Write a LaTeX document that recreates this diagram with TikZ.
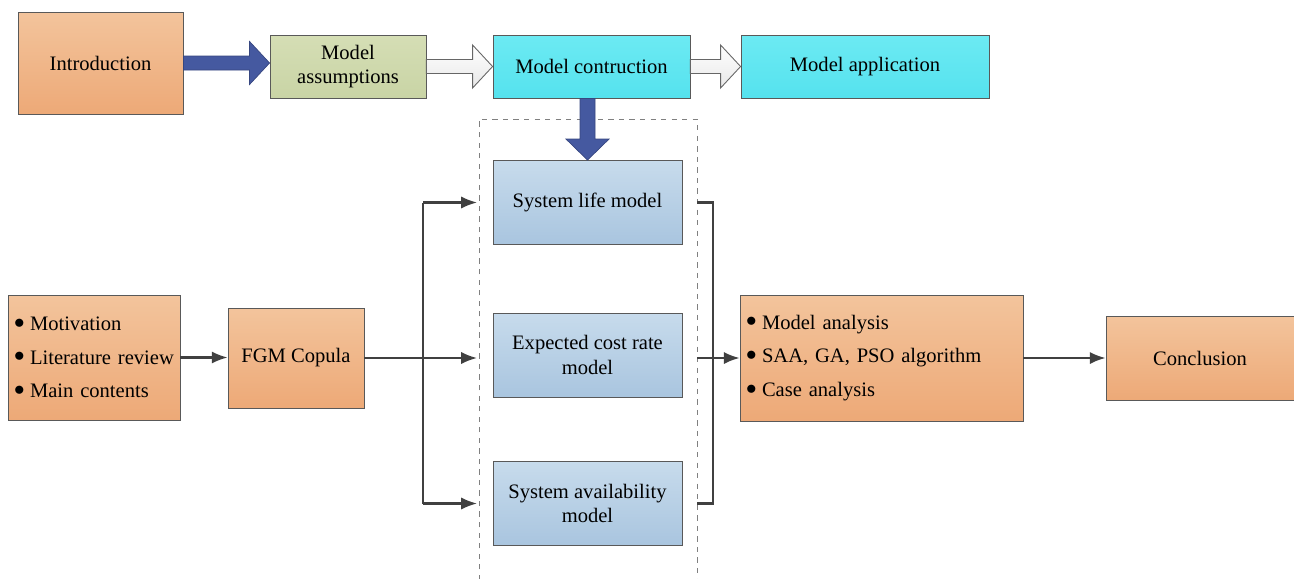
\documentclass[tikz,border=0pt]{standalone}
\usepackage{fontspec}
\setmainfont{Liberation Serif}
\usepackage{tikz}
\usetikzlibrary{calc,arrows.meta}
\definecolor{orangetop}{HTML}{F3C49C}
\definecolor{orangebot}{HTML}{EDA977}
\definecolor{greentop}{HTML}{D5DEB5}
\definecolor{greenbot}{HTML}{C9D4A5}
\definecolor{cyantop}{HTML}{6CEAF3}
\definecolor{cyanbot}{HTML}{55E2EE}
\definecolor{bluetop}{HTML}{C7DBEC}
\definecolor{bluebot}{HTML}{A9C5DF}
\definecolor{fatblue}{HTML}{4559A0}
\definecolor{edge}{HTML}{595959}
\definecolor{wire}{HTML}{404040}
\tikzset{
  box/.style={draw=edge, line width=0.5pt, inner sep=0pt, align=center,
    font=\fontsize{11.7}{14}\selectfont},
  orangebox/.style={box, top color=orangetop, bottom color=orangebot},
  greenbox/.style={box, top color=greentop, bottom color=greenbot},
  cyanbox/.style={box, top color=cyantop, bottom color=cyanbot},
  bluebox/.style={box, top color=bluetop, bottom color=bluebot},
  listbox/.style={orangebox, inner xsep=0.12cm, align=left},
  wireline/.style={draw=wire, line width=1.2pt},
  conn/.style={wireline, -{Latex[length=9pt,width=7pt]}},
  bigblue/.style={fill=fatblue, draw=fatblue!80!black, line width=0.4pt},
  bigwhite/.style={top color=white, bottom color=gray!18, draw=gray!80!black, line width=0.5pt},
  frame/.style={draw=gray, dashed, line width=0.5pt}
}
\def\fatarrowh[#1](#2)(#3){\draw[#1] ($(#2)+(0,-7)$) -- ($(#3)+(-20,-7)$) -- ($(#3)+(-20,-21.5)$) -- (#3) -- ($(#3)+(-20,21.5)$) -- ($(#3)+(-20,7)$) -- ($(#2)+(0,7)$) -- cycle;}
\def\fatarrowv[#1](#2)(#3){\draw[#1] ($(#2)+(-7.5,0)$) -- ($(#3)+(-7.5,-21)$) -- ($(#3)+(-21.5,-21)$) -- (#3) -- ($(#3)+(21.5,-21)$) -- ($(#3)+(7.5,-21)$) -- ($(#2)+(7.5,0)$) -- cycle;}
\newcommand\bul{\makebox[0.32cm][l]{\raisebox{0.12em}{$\bullet$}}}

\begin{document}
\begin{tikzpicture}[x=0.02cm, y=-0.02cm]
  %%%%% START %%%%%
  \useasboundingbox (0,0) rectangle (1294,578);

  % top row
  \node[orangebox, minimum width=3.3cm, minimum height=2.04cm] (intro) at (100.5,63) {Introduction};
  \node[greenbox, minimum width=3.12cm, minimum height=1.26cm] (assume) at (348,66.5) {Model\\assumptions};
  \node[cyanbox, minimum width=3.94cm, minimum height=1.26cm] (constr) at (591.5,66.5) {\raisebox{-2pt}{Model contruction}};
  \node[cyanbox, minimum width=4.96cm, minimum height=1.26cm] (appl) at (865,66.5) {\raisebox{-2pt}{Model application}};

  % model group
  \draw[frame] (479,580) -- (479,119) -- (697,119) -- (697,580);
  \node[bluebox, minimum width=3.78cm, minimum height=1.68cm] (life) at (587.5,202.5) {System life model};
  \node[bluebox, minimum width=3.78cm, minimum height=1.68cm] (cost) at (587.5,355) {Expected cost rate\\model};
  \node[bluebox, minimum width=3.78cm, minimum height=1.68cm] (avail) at (587.5,503.5) {System availability\\model};

  % middle row
  \node[listbox, text width=3.2cm, minimum height=2.5cm] (lit) at (94,357.5)
    {\raisebox{-2pt}{\parbox{3.2cm}{\bul Motivation\\[5.2pt]\bul \mbox{Literature review}\\[5.2pt]\bul Main contents}}};
  \node[orangebox, minimum width=2.72cm, minimum height=2cm] (fgm) at (296,358) {FGM Copula};
  \node[listbox, text width=5.42cm, minimum height=2.52cm] (res) at (881.5,358)
    {\raisebox{-3pt}{\parbox{5.42cm}{\bul Model analysis\\[5.2pt]\bul SAA, GA, PSO algorithm\\[5.2pt]\bul Case analysis}}};
  \node[orangebox, minimum width=3.76cm, minimum height=1.68cm] (concl) at (1200,358) {Conclusion};

  % fat arrows
  \coordinate (a1) at (assume.west |- intro.east);
  \coordinate (a2) at (constr.west |- assume.east);
  \coordinate (a3) at (appl.west |- constr.east);
  \coordinate (a4) at (life.north |- constr.south);
  \fatarrowh[bigblue](intro.east)(a1);
  \fatarrowh[bigwhite](assume.east)(a2);
  \fatarrowh[bigwhite](constr.east)(a3);
  \fatarrowv[bigblue](a4)(life.north);

  % connectors
  \coordinate (fl) at (477,0);
  \coordinate (fr) at (697,0);
  \coordinate (tl) at (423,0);
  \coordinate (tr) at (713,0);
  \draw[conn] (lit.east) -- (fgm.west |- lit.east);
  \draw[conn] (fgm.east) -- (fl |- fgm.east);
  \draw[wireline] (tl |- life.west) -- (tl |- avail.west);
  \draw[conn] (tl |- life.west) -- (fl |- life.west);
  \draw[conn] (tl |- avail.west) -- (fl |- avail.west);
  \draw[wireline] (fr |- life.east) -| (tr |- avail.east) -- (fr |- avail.east);
  \draw[conn] (fr |- res.west) -- (res.west);
  \draw[conn] (res.east) -- (concl.west |- res.east);
  %%%%% END %%%%%
\end{tikzpicture}
\end{document}
